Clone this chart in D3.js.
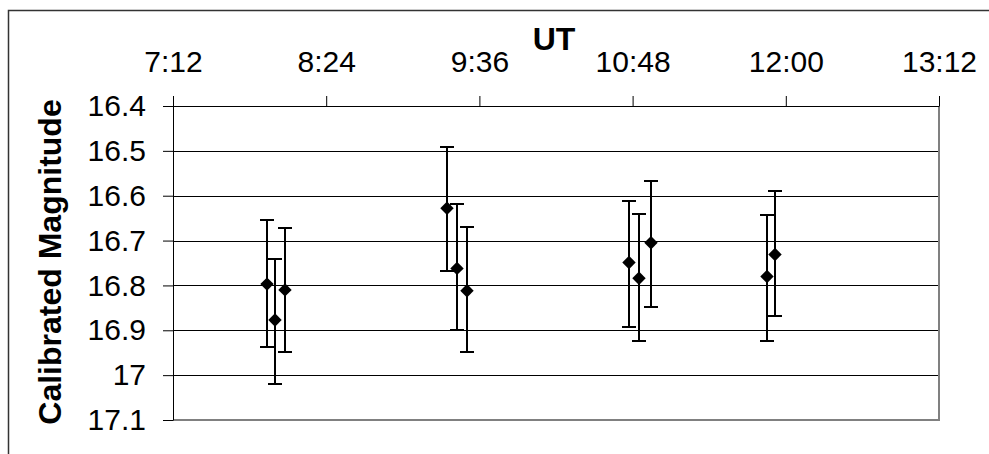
<!DOCTYPE html>
<html>
<head>
<meta charset="utf-8">
<script src="https://cdn.jsdelivr.net/npm/d3@7"></script>
<style>
  body { margin: 0; background: #fff; }
  text { font-family: "Liberation Sans", Arial, sans-serif; fill: #000; }
</style>
</head>
<body>
<svg id="chart" width="989" height="454"></svg>
<script>
const times = ["7:56:00", "7:59:54", "8:04:36",
    "9:20:36", "9:25:18", "9:30:00",
    "10:46:18", "10:51:00", "10:56:30",
    "11:51:00", "11:54:54"];
const mags = [16.797, 16.877, 16.810,
    16.628, 16.762, 16.812,
    16.749, 16.784, 16.705,
    16.780, 16.731];
const errUp = [0.143, 0.136, 0.139,
    0.137, 0.144, 0.143,
    0.138, 0.143, 0.138,
    0.137, 0.142];
const errDown = [0.140, 0.143, 0.139,
    0.139, 0.138, 0.137,
    0.143, 0.139, 0.142,
    0.143, 0.137];

const xTickLabels = ["7:12", "8:24", "9:36", "10:48", "12:00", "13:12"];
const yTicks = [16.4, 16.5, 16.6, 16.7, 16.8, 16.9, 17, 17.1];

const parseTime = d3.timeParse("%H:%M:%S");
const parseTick = d3.timeParse("%H:%M");

const plotL = 173, plotR = 939, plotT = 106, plotB = 420;

const svg = d3.select("#chart");

// outer chart border (runs off the picture on the right and bottom)
svg.append("rect")
    .attr("x", 8.5).attr("y", 10.5)
    .attr("width", 1100).attr("height", 600)
    .attr("fill", "none")
    .attr("stroke", "#333")
    .attr("stroke-width", 1.5);

const tickDates = xTickLabels.map(parseTick);

const x = d3.scaleTime()
    .domain([tickDates[0], tickDates[tickDates.length - 1]])
    .range([plotL, plotR]);

const y = d3.scaleLinear()
    .domain([16.4, 17.1])
    .range([plotT, plotB]);

// horizontal gridlines
svg.append("g")
    .selectAll("line")
    .data(yTicks)
    .join("line")
    .attr("x1", plotL).attr("x2", plotR)
    .attr("y1", d => Math.round(y(d)) + 0.5).attr("y2", d => Math.round(y(d)) + 0.5)
    .attr("stroke", "#000")
    .attr("stroke-width", 1);

// plot area right / bottom border (grey)
svg.append("path")
    .attr("d", `M${plotR},${plotT}V${plotB}H${plotL}`)
    .attr("fill", "none")
    .attr("stroke", "#808080")
    .attr("stroke-width", 2);

// top axis (UT)
const xAxis = svg.append("g")
    .attr("transform", `translate(0,${plotT})`)
    .call(d3.axisTop(x)
        .tickValues(tickDates)
        .tickFormat(d3.timeFormat("%-H:%M"))
        .tickSize(10)
        .tickSizeOuter(0)
        .tickPadding(24));
xAxis.select(".domain").attr("stroke", "#000");
xAxis.selectAll("text")
    .style("font-size", "30px")
    .style("font-family", "'Liberation Sans', Arial, sans-serif");

// left axis (magnitude)
const yAxis = svg.append("g")
    .attr("transform", `translate(${plotL},0)`)
    .call(d3.axisLeft(y)
        .tickValues(yTicks)
        .tickFormat(d => String(d))
        .tickSize(10)
        .tickSizeOuter(0)
        .tickPadding(17));
yAxis.select(".domain").attr("stroke", "#000");
yAxis.selectAll("text")
    .style("font-size", "30px")
    .style("font-family", "'Liberation Sans', Arial, sans-serif");

// axis titles
svg.append("text")
    .attr("x", 554).attr("y", 50)
    .attr("text-anchor", "middle")
    .style("font-size", "32px")
    .style("font-weight", "bold")
    .text("UT");

svg.append("text")
    .attr("transform", "translate(61,262) rotate(-90)")
    .attr("text-anchor", "middle")
    .style("font-size", "32px")
    .style("font-weight", "bold")
    .text("Calibrated Magnitude");

// data with error bars
const data = times.map((t, i) => ({
    t: parseTime(t), m: mags[i], up: errUp[i], down: errDown[i]
}));
const px = d => Math.round(x(d.t));

const bars = svg.append("g")
    .attr("stroke", "#000")
    .attr("stroke-width", 2);

bars.selectAll(".stem")
    .data(data)
    .join("line")
    .attr("class", "stem")
    .attr("x1", px).attr("x2", px)
    .attr("y1", d => y(d.m - d.up)).attr("y2", d => y(d.m + d.down));

bars.selectAll(".capTop")
    .data(data)
    .join("line")
    .attr("class", "capTop")
    .attr("x1", d => px(d) - 7).attr("x2", d => px(d) + 7)
    .attr("y1", d => Math.round(y(d.m - d.up))).attr("y2", d => Math.round(y(d.m - d.up)));

bars.selectAll(".capBottom")
    .data(data)
    .join("line")
    .attr("class", "capBottom")
    .attr("x1", d => px(d) - 7).attr("x2", d => px(d) + 7)
    .attr("y1", d => Math.round(y(d.m + d.down))).attr("y2", d => Math.round(y(d.m + d.down)));

svg.append("g")
    .selectAll("path")
    .data(data)
    .join("path")
    .attr("d", d3.symbol().type(d3.symbolSquare).size(90))
    .attr("transform", d => `translate(${px(d)},${y(d.m)}) rotate(45)`)
    .attr("fill", "#000");
</script>
</body>
</html>
